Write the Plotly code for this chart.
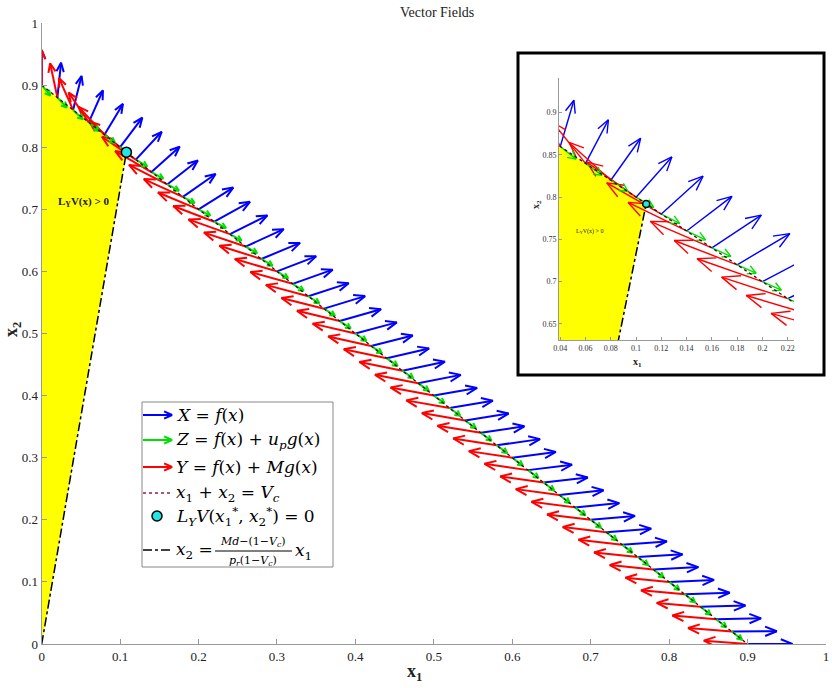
import math
import plotly.graph_objects as go

# points on the sliding line x1 + x2 = Vc
Vc = 0.9
x1_pts = [0.00, 0.02, 0.04, 0.06, 0.08, 0.10, 0.12, 0.14, 0.16, 0.18,
          0.20, 0.22, 0.24, 0.26, 0.28, 0.30, 0.32, 0.34, 0.36, 0.38,
          0.40, 0.42, 0.44, 0.46, 0.48, 0.50, 0.52, 0.54, 0.56, 0.58,
          0.60, 0.62, 0.64, 0.66, 0.68, 0.70, 0.72, 0.74, 0.76, 0.78,
          0.80, 0.82, 0.84, 0.86, 0.88, 0.90]
x2_pts = [0.90, 0.88, 0.86, 0.84, 0.82, 0.80, 0.78, 0.76, 0.74, 0.72,
          0.70, 0.68, 0.66, 0.64, 0.62, 0.60, 0.58, 0.56, 0.54, 0.52,
          0.50, 0.48, 0.46, 0.44, 0.42, 0.40, 0.38, 0.36, 0.34, 0.32,
          0.30, 0.28, 0.26, 0.24, 0.22, 0.20, 0.18, 0.16, 0.14, 0.12,
          0.10, 0.08, 0.06, 0.04, 0.02, 0.00]

# X = f(x)  (blue)
fx_u = [0.0000, 0.0047, 0.0108, 0.0181, 0.0236, 0.0283, 0.0330, 0.0359, 0.0391, 0.0417,
        0.0442, 0.0456, 0.0478, 0.0486, 0.0494, 0.0499, 0.0510, 0.0514, 0.0523, 0.0526,
        0.0528, 0.0531, 0.0539, 0.0541, 0.0543, 0.0551, 0.0552, 0.0553, 0.0554, 0.0554,
        0.0555, 0.0562, 0.0562, 0.0563, 0.0564, 0.0564, 0.0571, 0.0571, 0.0571, 0.0572,
        0.0572, 0.0572, 0.0572, 0.0572, 0.0572, 0.0572]
fx_v = [0.0564, 0.0561, 0.0547, 0.0515, 0.0497, 0.0476, 0.0448, 0.0409, 0.0387, 0.0369,
        0.0350, 0.0320, 0.0302, 0.0280, 0.0259, 0.0242, 0.0228, 0.0211, 0.0202, 0.0191,
        0.0179, 0.0168, 0.0158, 0.0146, 0.0134, 0.0123, 0.0117, 0.0111, 0.0105, 0.0099,
        0.0092, 0.0087, 0.0081, 0.0075, 0.0069, 0.0062, 0.0057, 0.0051, 0.0044, 0.0038,
        0.0032, 0.0025, 0.0019, 0.0013, 0.0006, 0.0000]

# Y = f(x) + M g(x)  (red)
fy_u = [0.0000, -0.0093, -0.0181, -0.0256, -0.0330, -0.0390, -0.0432, -0.0463, -0.0487, -0.0498,
        -0.0517, -0.0523, -0.0528, -0.0531, -0.0534, -0.0537, -0.0539, -0.0541, -0.0543, -0.0544,
        -0.0545, -0.0547, -0.0548, -0.0549, -0.0550, -0.0551, -0.0551, -0.0552, -0.0553, -0.0553,
        -0.0554, -0.0554, -0.0554, -0.0555, -0.0555, -0.0556, -0.0556, -0.0556, -0.0557, -0.0557,
        -0.0557, -0.0558, -0.0558, -0.0558, -0.0558, -0.0558]
fy_v = [0.0564, 0.0551, 0.0515, 0.0481, 0.0448, 0.0414, 0.0369, 0.0338, 0.0314, 0.0287,
        0.0271, 0.0254, 0.0237, 0.0225, 0.0213, 0.0201, 0.0189, 0.0183, 0.0171, 0.0165,
        0.0159, 0.0153, 0.0147, 0.0141, 0.0135, 0.0129, 0.0123, 0.0119, 0.0114, 0.0111,
        0.0106, 0.0102, 0.0099, 0.0094, 0.0090, 0.0086, 0.0083, 0.0079, 0.0075, 0.0072,
        0.0068, 0.0064, 0.0062, 0.0059, 0.0057, 0.0054]

# Z = f(x) + u_p g(x)  (green)
fz_u = [0.0110, 0.0120, 0.0125, 0.0130, 0.0135, 0.0140, 0.0145, 0.0150, 0.0150, 0.0150,
        0.0150, 0.0150, 0.0148, 0.0146, 0.0144, 0.0142, 0.0140, 0.0140, 0.0140, 0.0140,
        0.0140, 0.0138, 0.0138, 0.0138, 0.0136, 0.0136, 0.0136, 0.0135, 0.0135, 0.0135,
        0.0134, 0.0134, 0.0134, 0.0133, 0.0133, 0.0133, 0.0132, 0.0132, 0.0132, 0.0131,
        0.0131, 0.0131, 0.0130, 0.0130, 0.0130, 0.0130]
fz_v = [-0.0170, -0.0160, -0.0150, -0.0140, -0.0130, -0.0120, -0.0110, -0.0105, -0.0100, -0.0100,
        -0.0100, -0.0102, -0.0104, -0.0106, -0.0108, -0.0110, -0.0112, -0.0114, -0.0116, -0.0118,
        -0.0120, -0.0120, -0.0122, -0.0122, -0.0124, -0.0124, -0.0125, -0.0125, -0.0126, -0.0126,
        -0.0127, -0.0127, -0.0128, -0.0128, -0.0128, -0.0129, -0.0129, -0.0129, -0.0130, -0.0130,
        -0.0130, -0.0130, -0.0130, -0.0130, -0.0130, -0.0130]

# equilibrium point where L_Y V = 0, and the boundary line x2 = k x1
eq_x1 = 0.108
eq_x2 = 0.792
region_x1 = [0.0, 0.0, eq_x1]
region_x2 = [0.0, Vc, eq_x2]

W, H = 832, 688
FONT = "Liberation Serif"
MATH = "DejaVu Serif"


def quiver(xs, ys, us, vs, kx, ky, frac=0.28, ang=22):
    # shafts + two barbs per arrow; barbs built in pixel space (kx, ky = px per unit)
    px, py = [], []
    a0 = math.radians(ang)
    for x, y, u, v in zip(xs, ys, us, vs):
        ex, ey = x + u, y + v
        dx, dy = u * kx, v * ky
        L = math.hypot(dx, dy)
        if L == 0:
            continue
        a = math.atan2(dy, dx)
        hl = frac * L
        b1x = ex - hl * math.cos(a + a0) / kx
        b1y = ey - hl * math.sin(a + a0) / ky
        b2x = ex - hl * math.cos(a - a0) / kx
        b2y = ey - hl * math.sin(a - a0) / ky
        px += [x, ex, None, b1x, ex, b2x, None]
        py += [y, ey, None, b1y, ey, b2y, None]
    return px, py


fig = go.Figure()

panels = [("x", "y", 786, 621, 2.0, 10), ("x2", "y2", 1263, 845, 1.4, 7)]
for xa, ya, kx, ky, lw, dot in panels:
    fig.add_trace(go.Scatter(x=region_x1, y=region_x2, fill="toself", fillcolor="#FFFF00",
                             mode="lines", line=dict(width=0), xaxis=xa, yaxis=ya, hoverinfo="skip"))
    bx, by = quiver(x1_pts, x2_pts, fx_u, fx_v, kx, ky)
    fig.add_trace(go.Scatter(x=bx, y=by, mode="lines", line=dict(color="#0000FF", width=lw),
                             xaxis=xa, yaxis=ya, hoverinfo="skip"))
    rx, ry = quiver(x1_pts, x2_pts, fy_u, fy_v, kx, ky)
    fig.add_trace(go.Scatter(x=rx, y=ry, mode="lines", line=dict(color="#FF0000", width=lw),
                             xaxis=xa, yaxis=ya, hoverinfo="skip"))
    gx, gy = quiver(x1_pts, x2_pts, fz_u, fz_v, kx, ky, frac=0.45, ang=28)
    fig.add_trace(go.Scatter(x=gx, y=gy, mode="lines", line=dict(color="#00E000", width=lw),
                             xaxis=xa, yaxis=ya, hoverinfo="skip"))
    fig.add_trace(go.Scatter(x=[0, Vc], y=[Vc, 0], mode="lines",
                             line=dict(color="#3a0818", width=1.3, dash="dot"),
                             xaxis=xa, yaxis=ya, hoverinfo="skip"))
    fig.add_trace(go.Scatter(x=[0, eq_x1], y=[0, eq_x2], mode="lines",
                             line=dict(color="black", width=1.5, dash="dashdot"),
                             xaxis=xa, yaxis=ya, hoverinfo="skip"))
    fig.add_trace(go.Scatter(x=[eq_x1], y=[eq_x2], mode="markers",
                             marker=dict(color="#22E5E5", size=dot, line=dict(color="black", width=1.5)),
                             xaxis=xa, yaxis=ya, hoverinfo="skip"))

# hand-made legend on a hidden pixel-space axis
rows = [415, 440, 467, 493, 516, 550]
for yy, col in zip(rows[:3], ["#0000FF", "#00E000", "#FF0000"]):
    lx, ly = quiver([143], [yy], [29], [0], 1, 1, frac=0.3, ang=25)
    fig.add_trace(go.Scatter(x=lx, y=ly, mode="lines", line=dict(color=col, width=2),
                             xaxis="x3", yaxis="y3", hoverinfo="skip"))
fig.add_trace(go.Scatter(x=[143, 172], y=[rows[3]] * 2, mode="lines",
                         line=dict(color="#8a2050", width=1.3, dash="dot"),
                         xaxis="x3", yaxis="y3", hoverinfo="skip"))
fig.add_trace(go.Scatter(x=[157], y=[rows[4]], mode="markers",
                         marker=dict(color="#22E5E5", size=10, line=dict(color="black", width=1.5)),
                         xaxis="x3", yaxis="y3", hoverinfo="skip"))
fig.add_trace(go.Scatter(x=[143, 172], y=[rows[5]] * 2, mode="lines",
                         line=dict(color="black", width=1.5, dash="dashdot"),
                         xaxis="x3", yaxis="y3", hoverinfo="skip"))
fig.add_trace(go.Scatter(x=[215, 292], y=[551, 551], mode="lines",
                         line=dict(color="black", width=1),
                         xaxis="x3", yaxis="y3", hoverinfo="skip"))

labels = [
    "<i>X</i> = <i>f</i>(<i>x</i>)",
    "<i>Z</i> = <i>f</i>(<i>x</i>) + <i>u<sub>p</sub>g</i>(<i>x</i>)",
    "<i>Y</i> = <i>f</i>(<i>x</i>) + <i>Mg</i>(<i>x</i>)",
    "<i>x</i><sub>1</sub> + <i>x</i><sub>2</sub> = <i>V<sub>c</sub></i>",
    "<i>L<sub>Y</sub>V</i>(<i>x</i><sub>1</sub><sup>*</sup>, <i>x</i><sub>2</sub><sup>*</sup>) = 0",
    "<i>x</i><sub>2</sub> =",
]
ann = []
for yy, txt in zip(rows, labels):
    ann.append(dict(x=174, y=yy, xref="x3", yref="y3", text=txt, showarrow=False,
                    xanchor="left", yanchor="middle", font=dict(family=MATH, size=17, color="black")))
ann.append(dict(x=253, y=542, xref="x3", yref="y3", showarrow=False, xanchor="center", yanchor="middle",
                text="<i>Md</i>−(1−<i>V<sub>c</sub></i>)", font=dict(family=MATH, size=11, color="black")))
ann.append(dict(x=253, y=561, xref="x3", yref="y3", showarrow=False, xanchor="center", yanchor="middle",
                text="<i>p<sub>r</sub></i>(1−<i>V<sub>c</sub></i>)", font=dict(family=MATH, size=11, color="black")))
ann.append(dict(x=293, y=551, xref="x3", yref="y3", showarrow=False, xanchor="left", yanchor="middle",
                text="<i>x</i><sub>1</sub>", font=dict(family=MATH, size=17, color="black")))

# titles and region labels
ann.append(dict(x=437, y=12, xref="x3", yref="y3", text="Vector Fields", showarrow=False,
                font=dict(family=FONT, size=14, color="#222")))
ann.append(dict(x=414, y=672, xref="x3", yref="y3", text="<b>x<sub>1</sub></b>", showarrow=False,
                font=dict(family=FONT, size=18, color="#222")))
ann.append(dict(x=12, y=330, xref="x3", yref="y3", text="<b>x<sub>2</sub></b>", showarrow=False,
                textangle=-90, font=dict(family=FONT, size=18, color="#222")))
ann.append(dict(x=637, y=362, xref="x3", yref="y3", text="<b>x<sub>1</sub></b>", showarrow=False,
                font=dict(family=FONT, size=10, color="#222")))
ann.append(dict(x=536, y=205, xref="x3", yref="y3", text="<b>x<sub>2</sub></b>", showarrow=False,
                textangle=-90, font=dict(family=FONT, size=10, color="#222")))
ann.append(dict(x=0.053, y=0.712, xref="x", yref="y", text="<b>L<sub>Y</sub>V(x) > 0</b>", showarrow=False,
                font=dict(family=FONT, size=11, color="#222")))
ann.append(dict(x=0.063, y=0.759, xref="x2", yref="y2", text="L<sub>Y</sub>V(x) > 0", showarrow=False,
                font=dict(family=FONT, size=6, color="#222")))

shapes = [
    dict(type="rect", xref="paper", yref="paper", layer="below",
         x0=518 / W, x1=824 / W, y0=1 - 375 / H, y1=1 - 53 / H,
         line=dict(color="black", width=3), fillcolor="white"),
    dict(type="rect", xref="paper", yref="paper", layer="below",
         x0=142 / W, x1=333 / W, y0=1 - 567 / H, y1=1 - 402 / H,
         line=dict(color="#888", width=1), fillcolor="white"),
]

axis_common = dict(showline=True, linecolor="#999", linewidth=1, ticks="inside", tickcolor="#999",
                   showgrid=False, zeroline=False, mirror=False, automargin=False)

fig.update_layout(
    width=W, height=H, margin=dict(l=0, r=0, t=0, b=0, autoexpand=False),
    paper_bgcolor="white", plot_bgcolor="rgba(0,0,0,0)", showlegend=False,
    annotations=ann, shapes=shapes,
    xaxis=dict(domain=[41.7 / W, 826 / W], range=[0, 1], dtick=0.1, tick0=0, ticklen=5,
               tickfont=dict(family=FONT, size=13, color="#222"), anchor="y", **axis_common),
    yaxis=dict(domain=[1 - 644 / H, 1 - 23 / H], range=[0, 1], dtick=0.1, tick0=0, ticklen=5,
               tickfont=dict(family=FONT, size=13, color="#222"), anchor="x", **axis_common),
    xaxis2=dict(domain=[559 / W, 794 / W], range=[0.039, 0.225], dtick=0.02, tick0=0.04, ticklen=3,
                tickfont=dict(family=FONT, size=8, color="#333"), anchor="y2", **axis_common),
    yaxis2=dict(domain=[1 - 340 / H, 1 - 78 / H], range=[0.631, 0.941], dtick=0.05, tick0=0.65, ticklen=3,
                tickfont=dict(family=FONT, size=8, color="#333"), anchor="x2", **axis_common),
    xaxis3=dict(domain=[0, 1], range=[0, W], visible=False, fixedrange=True, anchor="y3", automargin=False),
    yaxis3=dict(domain=[0, 1], range=[H, 0], visible=False, fixedrange=True, anchor="x3", automargin=False),
)

# drop the browser's default 8px body margin so the figure sits at the page corner
fig.write_html("out.html", config={"displayModeBar": False},
               post_script="document.body.style.margin='0px';")
